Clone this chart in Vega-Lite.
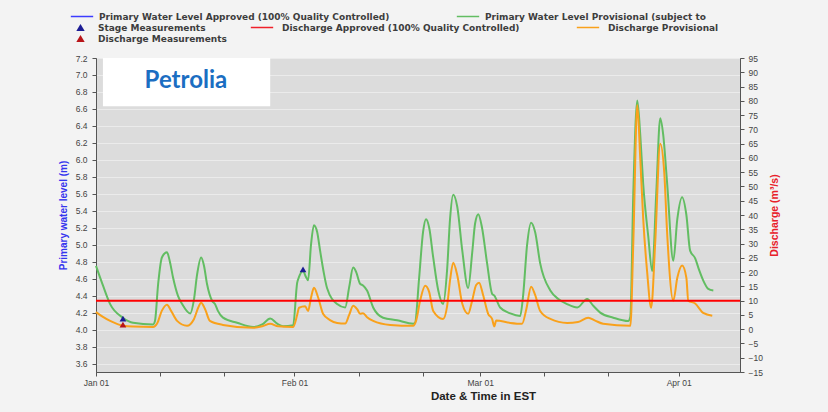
{
  "$schema": "https://vega.github.io/schema/vega-lite/v6.json",
  "width": 644,
  "height": 314,
  "autosize": {"type": "none"},
  "padding": {"left": 96, "top": 58, "right": 88, "bottom": 40},
  "background": "#f3f3f3",
  "config": {
    "view": {"fill": "#dcdcdc", "stroke": "#6a6a6a", "strokeWidth": 1},
    "axis": {"labelFont": "Liberation Sans", "labelFontSize": 8.5, "labelColor": "#444444", "tickColor": "#555555", "domainColor": "#555555", "tickSize": 4, "titleFont": "Liberation Sans"},
    "legend": {"labelFont": "DejaVu Sans", "labelFontSize": 9, "labelFontWeight": "bold", "labelColor": "#3d3d3d", "labelLimit": 600, "clipHeight": 11, "rowPadding": 0}
  },
  "datasets": {
    "level": [
      {"t":"2016-01-01T00:00","v":4.75},{"t":"2016-01-02T02:00","v":4.52},{"t":"2016-01-03T05:00","v":4.30},{"t":"2016-01-05T05:00","v":4.14},{"t":"2016-01-06T19:00","v":4.08},{"t":"2016-01-09T22:00","v":4.06},{"t":"2016-01-10T05:00","v":4.10},{"t":"2016-01-10T17:00","v":4.54},{"t":"2016-01-11T07:00","v":4.85},{"t":"2016-01-12T02:00","v":4.91},{"t":"2016-01-12T13:00","v":4.80},{"t":"2016-01-13T01:00","v":4.61},{"t":"2016-01-13T19:00","v":4.40},{"t":"2016-01-14T11:00","v":4.30},{"t":"2016-01-15T17:00","v":4.19},{"t":"2016-01-16T07:00","v":4.35},{"t":"2016-01-16T19:00","v":4.65},{"t":"2016-01-17T10:00","v":4.85},{"t":"2016-01-17T21:00","v":4.75},{"t":"2016-01-18T08:00","v":4.54},{"t":"2016-01-19T03:00","v":4.34},{"t":"2016-01-19T14:00","v":4.30},{"t":"2016-01-20T01:00","v":4.22},{"t":"2016-01-20T20:00","v":4.14},{"t":"2016-01-23T01:00","v":4.08},{"t":"2016-01-25T13:00","v":4.03},{"t":"2016-01-26T23:00","v":4.06},{"t":"2016-01-28T05:00","v":4.13},{"t":"2016-01-29T07:00","v":4.07},{"t":"2016-01-30T05:00","v":4.04},{"t":"2016-01-31T19:00","v":4.05},{"t":"2016-02-01T10:00","v":4.55},{"t":"2016-02-01T17:00","v":4.62},{"t":"2016-02-02T08:00","v":4.69},{"t":"2016-02-02T19:00","v":4.62},{"t":"2016-02-03T03:00","v":4.58},{"t":"2016-02-03T14:00","v":5.00},{"t":"2016-02-04T01:00","v":5.23},{"t":"2016-02-04T13:00","v":5.15},{"t":"2016-02-05T00:00","v":4.93},{"t":"2016-02-05T15:00","v":4.65},{"t":"2016-02-06T02:00","v":4.49},{"t":"2016-02-07T16:00","v":4.30},{"t":"2016-02-08T22:00","v":4.26},{"t":"2016-02-09T13:00","v":4.50},{"t":"2016-02-10T04:00","v":4.73},{"t":"2016-02-10T15:00","v":4.68},{"t":"2016-02-11T06:00","v":4.54},{"t":"2016-02-11T17:00","v":4.52},{"t":"2016-02-12T08:00","v":4.46},{"t":"2016-02-13T07:00","v":4.26},{"t":"2016-02-14T20:00","v":4.14},{"t":"2016-02-17T01:00","v":4.11},{"t":"2016-02-19T13:00","v":4.07},{"t":"2016-02-19T20:00","v":4.08},{"t":"2016-02-20T11:00","v":4.60},{"t":"2016-02-21T02:00","v":5.15},{"t":"2016-02-21T13:00","v":5.30},{"t":"2016-02-22T01:00","v":5.20},{"t":"2016-02-22T16:00","v":4.85},{"t":"2016-02-23T11:00","v":4.46},{"t":"2016-02-24T05:00","v":4.30},{"t":"2016-02-24T20:00","v":4.70},{"t":"2016-02-25T07:00","v":5.30},{"t":"2016-02-25T19:00","v":5.59},{"t":"2016-02-26T10:00","v":5.45},{"t":"2016-02-27T05:00","v":4.93},{"t":"2016-02-28T03:00","v":4.49},{"t":"2016-02-28T18:00","v":4.90},{"t":"2016-02-29T05:00","v":5.25},{"t":"2016-02-29T17:00","v":5.36},{"t":"2016-03-01T07:00","v":5.20},{"t":"2016-03-02T02:00","v":4.78},{"t":"2016-03-02T21:00","v":4.42},{"t":"2016-03-03T05:00","v":4.40},{"t":"2016-03-04T03:00","v":4.26},{"t":"2016-03-05T17:00","v":4.19},{"t":"2016-03-07T06:00","v":4.16},{"t":"2016-03-07T17:00","v":4.40},{"t":"2016-03-08T08:00","v":5.00},{"t":"2016-03-08T23:00","v":5.26},{"t":"2016-03-09T14:00","v":5.15},{"t":"2016-03-10T09:00","v":4.78},{"t":"2016-03-11T23:00","v":4.46},{"t":"2016-03-13T05:00","v":4.36},{"t":"2016-03-14T14:00","v":4.30},{"t":"2016-03-16T04:00","v":4.26},{"t":"2016-03-17T17:00","v":4.36},{"t":"2016-03-18T16:00","v":4.28},{"t":"2016-03-19T18:00","v":4.20},{"t":"2016-03-21T19:00","v":4.14},{"t":"2016-03-24T03:00","v":4.10},{"t":"2016-03-24T11:00","v":4.15},{"t":"2016-03-24T22:00","v":5.60},{"t":"2016-03-25T13:00","v":6.70},{"t":"2016-03-26T00:00","v":6.30},{"t":"2016-03-26T11:00","v":5.72},{"t":"2016-03-27T06:00","v":5.10},{"t":"2016-03-27T21:00","v":4.69},{"t":"2016-03-28T12:00","v":5.60},{"t":"2016-03-29T03:00","v":6.49},{"t":"2016-03-29T14:00","v":6.30},{"t":"2016-03-30T05:00","v":5.72},{"t":"2016-03-31T04:00","v":4.81},{"t":"2016-03-31T19:00","v":5.30},{"t":"2016-04-01T13:00","v":5.56},{"t":"2016-04-02T05:00","v":5.35},{"t":"2016-04-02T19:00","v":4.93},{"t":"2016-04-03T14:00","v":4.84},{"t":"2016-04-04T05:00","v":4.70},{"t":"2016-04-04T20:00","v":4.58},{"t":"2016-04-05T15:00","v":4.48},{"t":"2016-04-06T10:00","v":4.46}
    ],
    "discharge": [
      {"t":"2016-01-01T00:00","v":6.0},{"t":"2016-01-02T02:00","v":4.3},{"t":"2016-01-03T05:00","v":2.9},{"t":"2016-01-05T05:00","v":1.2},{"t":"2016-01-06T19:00","v":0.9},{"t":"2016-01-09T22:00","v":0.8},{"t":"2016-01-10T13:00","v":2.0},{"t":"2016-01-11T07:00","v":6.5},{"t":"2016-01-12T02:00","v":8.6},{"t":"2016-01-12T17:00","v":6.5},{"t":"2016-01-13T16:00","v":2.9},{"t":"2016-01-15T05:00","v":1.2},{"t":"2016-01-16T07:00","v":3.5},{"t":"2016-01-16T23:00","v":7.5},{"t":"2016-01-17T10:00","v":9.3},{"t":"2016-01-18T01:00","v":7.0},{"t":"2016-01-18T19:00","v":2.9},{"t":"2016-01-20T20:00","v":1.5},{"t":"2016-01-25T13:00","v":0.5},{"t":"2016-01-26T23:00","v":1.0},{"t":"2016-01-28T05:00","v":1.9},{"t":"2016-01-29T11:00","v":1.0},{"t":"2016-01-31T19:00","v":0.8},{"t":"2016-02-01T10:00","v":5.0},{"t":"2016-02-01T17:00","v":7.5},{"t":"2016-02-02T16:00","v":8.0},{"t":"2016-02-03T03:00","v":6.4},{"t":"2016-02-03T14:00","v":11.0},{"t":"2016-02-04T01:00","v":14.5},{"t":"2016-02-04T17:00","v":11.0},{"t":"2016-02-05T11:00","v":5.4},{"t":"2016-02-06T13:00","v":3.2},{"t":"2016-02-07T16:00","v":2.2},{"t":"2016-02-08T22:00","v":2.0},{"t":"2016-02-09T13:00","v":5.0},{"t":"2016-02-10T04:00","v":8.2},{"t":"2016-02-10T19:00","v":7.0},{"t":"2016-02-11T06:00","v":5.4},{"t":"2016-02-11T17:00","v":5.6},{"t":"2016-02-12T08:00","v":4.2},{"t":"2016-02-13T07:00","v":2.9},{"t":"2016-02-15T23:00","v":1.5},{"t":"2016-02-19T13:00","v":1.2},{"t":"2016-02-20T00:00","v":3.0},{"t":"2016-02-20T15:00","v":10.0},{"t":"2016-02-21T10:00","v":15.2},{"t":"2016-02-22T01:00","v":13.0},{"t":"2016-02-22T16:00","v":6.4},{"t":"2016-02-24T05:00","v":3.6},{"t":"2016-02-24T20:00","v":8.0},{"t":"2016-02-25T07:00","v":17.0},{"t":"2016-02-25T19:00","v":23.3},{"t":"2016-02-26T10:00","v":19.0},{"t":"2016-02-27T05:00","v":8.9},{"t":"2016-02-28T03:00","v":5.4},{"t":"2016-02-28T18:00","v":10.0},{"t":"2016-02-29T09:00","v":15.5},{"t":"2016-02-29T20:00","v":16.3},{"t":"2016-03-01T11:00","v":12.0},{"t":"2016-03-02T06:00","v":5.4},{"t":"2016-03-02T21:00","v":3.5},{"t":"2016-03-03T05:00","v":1.0},{"t":"2016-03-03T12:00","v":3.0},{"t":"2016-03-05T17:00","v":2.2},{"t":"2016-03-07T13:00","v":1.9},{"t":"2016-03-08T05:00","v":7.0},{"t":"2016-03-08T23:00","v":14.9},{"t":"2016-03-09T14:00","v":12.0},{"t":"2016-03-10T09:00","v":6.4},{"t":"2016-03-11T23:00","v":3.6},{"t":"2016-03-14T14:00","v":2.2},{"t":"2016-03-16T07:00","v":2.5},{"t":"2016-03-17T21:00","v":4.0},{"t":"2016-03-18T23:00","v":3.0},{"t":"2016-03-20T05:00","v":1.9},{"t":"2016-03-24T11:00","v":1.2},{"t":"2016-03-24T22:00","v":30.0},{"t":"2016-03-25T13:00","v":78.5},{"t":"2016-03-26T00:00","v":60.0},{"t":"2016-03-26T11:00","v":39.0},{"t":"2016-03-27T02:00","v":20.0},{"t":"2016-03-27T17:00","v":7.5},{"t":"2016-03-28T08:00","v":30.0},{"t":"2016-03-29T03:00","v":65.0},{"t":"2016-03-29T18:00","v":55.0},{"t":"2016-03-30T05:00","v":33.5},{"t":"2016-03-31T04:00","v":10.0},{"t":"2016-03-31T19:00","v":18.0},{"t":"2016-04-01T13:00","v":22.3},{"t":"2016-04-02T05:00","v":18.0},{"t":"2016-04-02T12:00","v":10.0},{"t":"2016-04-03T14:00","v":9.0},{"t":"2016-04-04T20:00","v":5.7},{"t":"2016-04-06T06:00","v":4.7}
    ],
    "stage": [
      {"t":"2016-01-05T05:00","v":4.13},
      {"t":"2016-02-02T08:00","v":4.71}
    ],
    "dmeas": [
      {"t":"2016-01-05T05:00","v":1.6}
    ]
  },
  "layer": [
    {
      "layer": [
        {
          "data": {"name": "level"},
          "mark": {"type": "line", "strokeWidth": 2, "interpolate": "monotone"},
          "encoding": {
            "x": {
              "field": "t", "type": "temporal",
              "scale": {"domain": [{"year": 2016, "month": 1, "date": 1}, {"year": 2016, "month": 4, "date": 10, "hours": 14}]},
              "axis": {
                "title": "Date & Time in EST", "titleFontWeight": "bold", "titleFontSize": 11.5, "titleColor": "#222222",
                "titleX": 387, "titlePadding": 4, "labelPadding": 2, "grid": false, "labelFlush": false, "labelOverlap": false,
                "tickCount": 40,
                "values": [
                  {"year": 2016, "month": 1, "date": 1}, {"year": 2016, "month": 1, "date": 11}, {"year": 2016, "month": 1, "date": 21},
                  {"year": 2016, "month": 2, "date": 1}, {"year": 2016, "month": 2, "date": 11}, {"year": 2016, "month": 2, "date": 21},
                  {"year": 2016, "month": 3, "date": 1}, {"year": 2016, "month": 3, "date": 11}, {"year": 2016, "month": 3, "date": 21},
                  {"year": 2016, "month": 4, "date": 1}
                ],
                "labelExpr": "date(datum.value) == 1 ? timeFormat(datum.value, '%b %d') : ''"
              }
            },
            "y": {
              "field": "v", "type": "quantitative",
              "scale": {"domain": [3.5, 7.2], "nice": false, "zero": false},
              "axis": {
                "title": "Primary water level (m)", "titleColor": "#3535ee", "titleFontWeight": "bold", "titleFontSize": 10,
                "titlePadding": 7, "labelPadding": 5, "format": ".1f", "labelOverlap": false, "tickCount": 40,
                "values": [3.6, 3.8, 4.0, 4.2, 4.4, 4.6, 4.8, 5.0, 5.2, 5.4, 5.6, 5.8, 6.0, 6.2, 6.4, 6.6, 6.8, 7.0, 7.2],
                "grid": true, "gridColor": "#ebebeb", "gridWidth": 1.2
              }
            },
            "color": {
              "datum": "Primary Water Level Provisional (subject to", "type": "nominal",
              "scale": {
                "domain": ["Primary Water Level Approved (100% Quality Controlled)", "Primary Water Level Provisional (subject to"],
                "range": ["#3c3cff", "#62bd62"]
              },
              "legend": {
                "title": null, "orient": "none", "direction": "horizontal", "legendX": -26, "legendY": -47,
                "columnPadding": 66, "symbolType": "stroke", "symbolSize": 500, "symbolStrokeWidth": 1.5, "labelOffset": 5
              }
            }
          }
        },
        {
          "data": {"name": "stage"},
          "mark": {"type": "point", "shape": "triangle-up", "filled": true, "size": 45, "opacity": 1},
          "encoding": {
            "x": {"field": "t", "type": "temporal"},
            "y": {"field": "v", "type": "quantitative"},
            "fill": {
              "datum": "Stage Measurements", "type": "nominal",
              "scale": {"domain": ["Stage Measurements", "Discharge Measurements"], "range": ["#1c1c94", "#b81418"]},
              "legend": {
                "title": null, "orient": "none", "direction": "vertical", "legendX": -20, "legendY": -36,
                "symbolType": "triangle-up", "symbolSize": 70, "symbolStrokeWidth": 0, "labelOffset": 13
              }
            }
          }
        },
        {
          "data": {"values": [{}]},
          "mark": {"type": "rect", "fill": "#ffffff"},
          "encoding": {
            "x": {"datum": {"year": 2016, "month": 1, "date": 2, "hours": 2}, "type": "temporal"},
            "x2": {"datum": {"year": 2016, "month": 1, "date": 28, "hours": 5}},
            "y": {"datum": 7.2, "type": "quantitative"},
            "y2": {"datum": 6.63}
          }
        },
        {
          "data": {"values": [{}]},
          "mark": {"type": "text", "text": "Petrolia", "font": "Lato", "fontWeight": "bold", "fontSize": 24, "color": "#1b6ec2", "align": "center", "baseline": "middle"},
          "encoding": {
            "x": {"datum": {"year": 2016, "month": 1, "date": 15, "hours": 1}, "type": "temporal"},
            "y": {"datum": 6.93, "type": "quantitative"}
          }
        }
      ]
    },
    {
      "layer": [
        {
          "data": {"name": "discharge"},
          "mark": {"type": "line", "strokeWidth": 2, "interpolate": "monotone"},
          "encoding": {
            "x": {"field": "t", "type": "temporal"},
            "y": {
              "field": "v", "type": "quantitative",
              "scale": {"domain": [-15, 95], "nice": false, "zero": false},
              "axis": {
                "orient": "right", "title": "Discharge (m³/s)", "titleColor": "#e8202a", "titleFontWeight": "bold", "titleFontSize": 10.5,
                "titleAngle": 270, "titlePadding": 17, "labelPadding": 4, "grid": false, "labelOverlap": false, "tickCount": 40,
                "values": [-15, -10, -5, 0, 5, 10, 15, 20, 25, 30, 35, 40, 45, 50, 55, 60, 65, 70, 75, 80, 85, 90, 95]
              }
            },
            "stroke": {
              "datum": "Discharge Provisional", "type": "nominal",
              "scale": {"domain": ["Discharge Approved (100% Quality Controlled)", "Discharge Provisional"], "range": ["#f0202a", "#f9a11b"]},
              "legend": {
                "title": null, "orient": "none", "direction": "horizontal", "legendX": 154, "legendY": -36,
                "columnPadding": 56, "symbolType": "stroke", "symbolSize": 500, "symbolStrokeWidth": 1.5, "labelOffset": 8
              }
            }
          }
        },
        {
          "data": {"values": [{}]},
          "mark": {"type": "rule", "color": "#ff0000", "strokeWidth": 2},
          "encoding": {"y": {"datum": 10, "type": "quantitative"}}
        },
        {
          "data": {"name": "dmeas"},
          "mark": {"type": "point", "shape": "triangle-up", "filled": true, "size": 45, "opacity": 1},
          "encoding": {
            "x": {"field": "t", "type": "temporal"},
            "y": {"field": "v", "type": "quantitative"},
            "fill": {"datum": "Discharge Measurements", "type": "nominal"}
          }
        }
      ]
    }
  ],
  "resolve": {"scale": {"y": "independent"}}
}
